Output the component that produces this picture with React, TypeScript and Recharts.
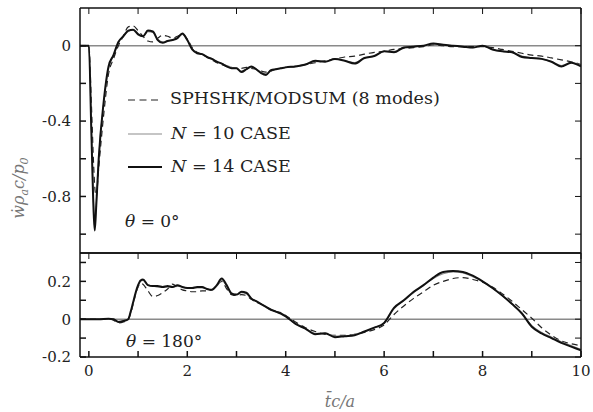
import { LineChart, Line, XAxis, YAxis, ReferenceLine } from 'recharts';

const SERIF = 'DejaVu Serif';

// time grid for the theta = 0 panel
const topT = [
  -0.18, 0, 0.05, 0.1, 0.12, 0.15, 0.2, 0.3, 0.4, 0.5, 0.6, 0.7, 0.8, 0.9, 1.0,
  1.1, 1.2, 1.3, 1.4, 1.5, 1.6, 1.7, 1.8, 1.9, 2.0, 2.1, 2.2, 2.3, 2.4, 2.5,
  2.6, 2.7, 2.8, 2.9, 3.0, 3.1, 3.2, 3.3, 3.4, 3.5, 3.6, 3.7, 3.8, 3.9, 4.0,
  4.2, 4.4, 4.6, 4.8, 5.0, 5.2, 5.4, 5.6, 5.8, 6.0, 6.2, 6.4, 6.6, 6.8, 7.0,
  7.2, 7.4, 7.6, 7.8, 8.0, 8.2, 8.4, 8.6, 8.8, 9.0, 9.2, 9.4, 9.6, 9.8, 10.0,
];
const topSph = [
  0, 0, -0.3, -0.65, -0.75, -0.8, -0.65, -0.37, -0.15, -0.07, 0.0, 0.05, 0.1, 0.105, 0.08,
  0.05, 0.025, 0.02, 0.04, 0.055, 0.05, 0.04, 0.05, 0.06, 0.035, -0.01, -0.035, -0.045, -0.06, -0.075,
  -0.09, -0.1, -0.11, -0.115, -0.12, -0.12, -0.115, -0.12, -0.125, -0.135, -0.14, -0.135, -0.125, -0.12, -0.115,
  -0.11, -0.1, -0.09, -0.08, -0.07, -0.06, -0.055, -0.045, -0.035, -0.03, -0.02, -0.015, -0.01, -0.005, 0.005,
  0.0, -0.005, -0.005, -0.005, -0.005, -0.01, -0.02, -0.03, -0.04, -0.05, -0.055, -0.065, -0.075, -0.085, -0.1,
];
const topN10 = [
  0, 0, -0.42, -0.86, -0.94, -0.84, -0.6, -0.31, -0.12, -0.05, 0.015, 0.05, 0.075, 0.085, 0.065,
  0.05, 0.075, 0.07, 0.035, 0.02, 0.025, 0.03, 0.04, 0.06, 0.03, -0.015, -0.04, -0.045, -0.06, -0.07,
  -0.085, -0.095, -0.105, -0.115, -0.12, -0.135, -0.125, -0.115, -0.125, -0.14, -0.15, -0.13, -0.125, -0.12, -0.115,
  -0.11, -0.1, -0.085, -0.085, -0.07, -0.08, -0.09, -0.065, -0.055, -0.03, -0.03, -0.01, -0.005, 0.0, 0.01,
  0.005, 0.0, -0.005, -0.01, 0.0, -0.02, -0.03, -0.035, -0.055, -0.065, -0.07, -0.085, -0.105, -0.09, -0.105,
];
const topN14 = [
  0, 0, -0.45, -0.9, -0.98, -0.85, -0.6, -0.3, -0.11, -0.05, 0.02, 0.05, 0.08, 0.085, 0.06,
  0.05, 0.08, 0.075, 0.03, 0.015, 0.025, 0.03, 0.04, 0.065, 0.03, -0.02, -0.04, -0.045, -0.06, -0.07,
  -0.085, -0.095, -0.11, -0.12, -0.12, -0.14, -0.125, -0.11, -0.125, -0.145, -0.155, -0.13, -0.125, -0.12, -0.115,
  -0.11, -0.1, -0.08, -0.085, -0.07, -0.08, -0.095, -0.065, -0.055, -0.03, -0.035, -0.01, -0.005, 0.0, 0.012,
  0.005, 0.0, -0.005, -0.01, 0.0, -0.02, -0.03, -0.035, -0.06, -0.065, -0.07, -0.085, -0.11, -0.09, -0.11,
];

// time grid for the theta = 180 panel
const botT = [
  -0.18, 0, 0.2, 0.4, 0.5, 0.6, 0.7, 0.8, 0.85, 0.9, 0.95, 1.0, 1.05, 1.1, 1.2,
  1.3, 1.4, 1.5, 1.6, 1.7, 1.8, 1.9, 2.0, 2.1, 2.2, 2.3, 2.4, 2.5, 2.6, 2.7,
  2.8, 2.9, 3.0, 3.1, 3.2, 3.3, 3.4, 3.5, 3.6, 3.7, 3.8, 3.9, 4.0, 4.2, 4.4,
  4.6, 4.8, 5.0, 5.2, 5.4, 5.6, 5.8, 6.0, 6.2, 6.4, 6.6, 6.8, 7.0, 7.2, 7.4,
  7.6, 7.8, 8.0, 8.2, 8.4, 8.6, 8.8, 9.0, 9.2, 9.4, 9.6, 9.8, 10.0,
];
const botSph = [
  0, 0, 0, 0, -0.005, -0.02, -0.015, 0.0, 0.03, 0.08, 0.13, 0.17, 0.19, 0.185, 0.15,
  0.12, 0.125, 0.14, 0.16, 0.185, 0.17, 0.155, 0.15, 0.145, 0.145, 0.15, 0.15, 0.155, 0.18, 0.2,
  0.16, 0.13, 0.125, 0.13, 0.125, 0.105, 0.09, 0.08, 0.065, 0.05, 0.04, 0.035, 0.02, -0.015, -0.045,
  -0.065, -0.08, -0.085, -0.085, -0.08, -0.07, -0.055, -0.03, 0.025, 0.07, 0.11, 0.145, 0.18, 0.2, 0.215,
  0.22, 0.21, 0.195, 0.17, 0.135, 0.095, 0.05, 0.005, -0.045, -0.085, -0.115, -0.13, -0.14,
];
const botN10 = [
  0, 0, 0, 0.002, 0.0, -0.012, -0.01, 0.0, 0.035, 0.085, 0.135, 0.175, 0.2, 0.205, 0.18,
  0.175, 0.17, 0.17, 0.17, 0.17, 0.175, 0.17, 0.165, 0.165, 0.165, 0.165, 0.16, 0.155, 0.175, 0.205,
  0.175, 0.14, 0.13, 0.14, 0.135, 0.11, 0.095, 0.08, 0.065, 0.05, 0.04, 0.03, 0.015, -0.025, -0.05,
  -0.075, -0.075, -0.09, -0.09, -0.08, -0.065, -0.045, -0.02, 0.055, 0.1, 0.14, 0.18, 0.215, 0.24, 0.25,
  0.245, 0.225, 0.2, 0.165, 0.125, 0.08, 0.03, -0.035, -0.07, -0.095, -0.12, -0.14, -0.16,
];
const botN14 = [
  0, 0, 0, 0.002, 0.0, -0.015, -0.01, 0.0, 0.04, 0.09, 0.14, 0.18, 0.205, 0.21, 0.18,
  0.175, 0.175, 0.17, 0.175, 0.17, 0.18, 0.17, 0.165, 0.165, 0.17, 0.17, 0.16, 0.155, 0.18, 0.215,
  0.18, 0.135, 0.13, 0.145, 0.14, 0.11, 0.095, 0.08, 0.065, 0.05, 0.04, 0.03, 0.015, -0.025, -0.05,
  -0.08, -0.075, -0.095, -0.09, -0.085, -0.065, -0.045, -0.02, 0.06, 0.1, 0.145, 0.18, 0.22, 0.25, 0.255,
  0.25, 0.23, 0.2, 0.165, 0.125, 0.08, 0.03, -0.04, -0.075, -0.1, -0.125, -0.145, -0.165,
];

const X_MIN = -0.18;
const X_MAX = 10;
const xTicks = [0, 1, 2, 3, 4, 5, 6, 7, 8, 9, 10];
const topYTicks = [-1, -0.8, -0.6, -0.4, -0.2, 0];
const topYLabels = [-0.8, -0.4, 0];
const botYTicks = [-0.2, -0.1, 0, 0.1, 0.2, 0.3];
const botYLabels = [-0.2, 0, 0.2];
const TOP_DOMAIN = [-1.1, 0.2];
const BOT_DOMAIN = [-0.2, 0.35];

const topData = topT.map((t, i) => ({ t, sph: topSph[i], n10: topN10[i], n14: topN14[i] }));
const botData = botT.map((t, i) => ({ t, sph: botSph[i], n10: botN10[i], n14: botN14[i] }));

const tickFont = { fontFamily: SERIF, fontSize: 15, fill: '#222' };
const xFmt = (v: number) => (v % 2 === 0 ? String(v) : '');

// plot boxes on the page (left, right, top, bottom)
const PL = 80;
const PR = 581;
const TOP_BOX = [8, 253];
const BOT_BOX = [253, 357];

function Panel({ data, yDomain, yTicks, yLabels, showX, height }: any) {
  const yFmt = (v: number) => (yLabels.some((l: number) => Math.abs(l - v) < 1e-9) ? String(v) : '');
  return (
    <LineChart
      width={593}
      height={height}
      data={data}
      margin={{ top: 8, right: 12, bottom: showX ? 0 : 8, left: 8 }}
    >
      <XAxis
        dataKey="t"
        type="number"
        domain={[X_MIN, X_MAX]}
        allowDataOverflow
        ticks={xTicks}
        height={showX ? 55 : 1}
        tickSize={-6}
        tickMargin={showX ? 14 : 0}
        tick={showX ? tickFont : false}
        tickFormatter={xFmt}
        stroke="#111"
        strokeWidth={1.5}
        interval={0}
      />
      <YAxis
        type="number"
        domain={yDomain}
        allowDataOverflow
        ticks={yTicks}
        width={72}
        tickSize={-6}
        tickMargin={15}
        tick={tickFont}
        tickFormatter={yFmt}
        stroke="#111"
        strokeWidth={1.5}
        interval={0}
      />
      <ReferenceLine y={0} stroke="#8a8a8a" strokeWidth={1.5} />
      <Line
        dataKey="sph"
        type="monotone"
        stroke="#222"
        strokeWidth={1.2}
        strokeDasharray="6 4"
        dot={false}
        isAnimationActive={false}
      />
      <Line
        dataKey="n10"
        type="monotone"
        stroke="#8c8c8c"
        strokeWidth={1.2}
        dot={false}
        isAnimationActive={false}
      />
      <Line
        dataKey="n14"
        type="monotone"
        stroke="#111"
        strokeWidth={2}
        dot={false}
        isAnimationActive={false}
      />
    </LineChart>
  );
}

// top and right sides of a panel frame, with inward ticks
function Frame({ box, domain, yTicks }: any) {
  const [top, bottom] = box;
  const [yMin, yMax] = domain;
  const sx = (t: number) => PL + ((t - X_MIN) / (X_MAX - X_MIN)) * (PR - PL);
  const sy = (v: number) => top + ((yMax - v) / (yMax - yMin)) * (bottom - top);
  return (
    <g stroke="#111">
      <line x1={PL} x2={PR} y1={top} y2={top} strokeWidth={1.5} />
      <line x1={PR} x2={PR} y1={top} y2={bottom} strokeWidth={1.5} />
      {xTicks.map((k) => (
        <line key={`x${k}`} x1={sx(k)} x2={sx(k)} y1={top} y2={top + 6} strokeWidth={1} />
      ))}
      {yTicks.map((v: number) => (
        <line key={`y${v}`} x1={PR} x2={PR - 6} y1={sy(v)} y2={sy(v)} strokeWidth={1} />
      ))}
    </g>
  );
}

export default function App() {
  return (
    <div
      style={{
        position: 'absolute',
        left: 0,
        top: 0,
        width: 593,
        height: 412,
        background: '#fff',
        overflow: 'hidden',
      }}
    >
      <div style={{ position: 'absolute', left: 0, top: 0 }}>
        <Panel data={topData} yDomain={TOP_DOMAIN} yTicks={topYTicks} yLabels={topYLabels} showX={false} height={262} />
      </div>
      <div style={{ position: 'absolute', left: 0, top: 245 }}>
        <Panel data={botData} yDomain={BOT_DOMAIN} yTicks={botYTicks} yLabels={botYLabels} showX height={167} />
      </div>
      <svg
        width={593}
        height={412}
        style={{ position: 'absolute', left: 0, top: 0, pointerEvents: 'none' }}
        fontFamily={SERIF}
      >
        <Frame box={TOP_BOX} domain={TOP_DOMAIN} yTicks={topYTicks} />
        <Frame box={BOT_BOX} domain={BOT_DOMAIN} yTicks={botYTicks} />
        {/* legend */}
        <line x1={128} x2={162} y1={100} y2={100} stroke="#222" strokeWidth={1.2} strokeDasharray="7 4.5" />
        <text x={170} y={104} fontSize={17.5} fill="#222">SPHSHK/MODSUM (8 modes)</text>
        <line x1={128} x2={162} y1={134} y2={134} stroke="#8c8c8c" strokeWidth={1.2} />
        <text x={171} y={139} fontSize={17.5} fill="#222">
          <tspan fontStyle="italic">N</tspan> = 10 CASE
        </text>
        <line x1={128} x2={162} y1={167} y2={167} stroke="#111" strokeWidth={2} />
        <text x={171} y={172} fontSize={17.5} fill="#222">
          <tspan fontStyle="italic">N</tspan> = 14 CASE
        </text>
        {/* panel notes */}
        <text x={125} y={227} fontSize={17} fill="#222">
          <tspan fontStyle="italic">θ</tspan> = 0°
        </text>
        <text x={126} y={347} fontSize={17} fill="#222">
          <tspan fontStyle="italic">θ</tspan> = 180°
        </text>
        {/* axis titles */}
        <text x={340} y={407} fontSize={16} fill="#777" fontStyle="italic" textAnchor="middle">
          t&#x0304;c/a
        </text>
        <text
          x={24}
          y={188}
          transform="rotate(-90, 24, 188)"
          fontSize={16}
          fill="#777"
          fontStyle="italic"
          textAnchor="middle"
        >
          ẇρ<tspan fontSize={11} dy={4}>a</tspan>
          <tspan dy={-4}>c/p</tspan>
          <tspan fontSize={11} dy={4}>0</tspan>
        </text>
      </svg>
    </div>
  );
}
